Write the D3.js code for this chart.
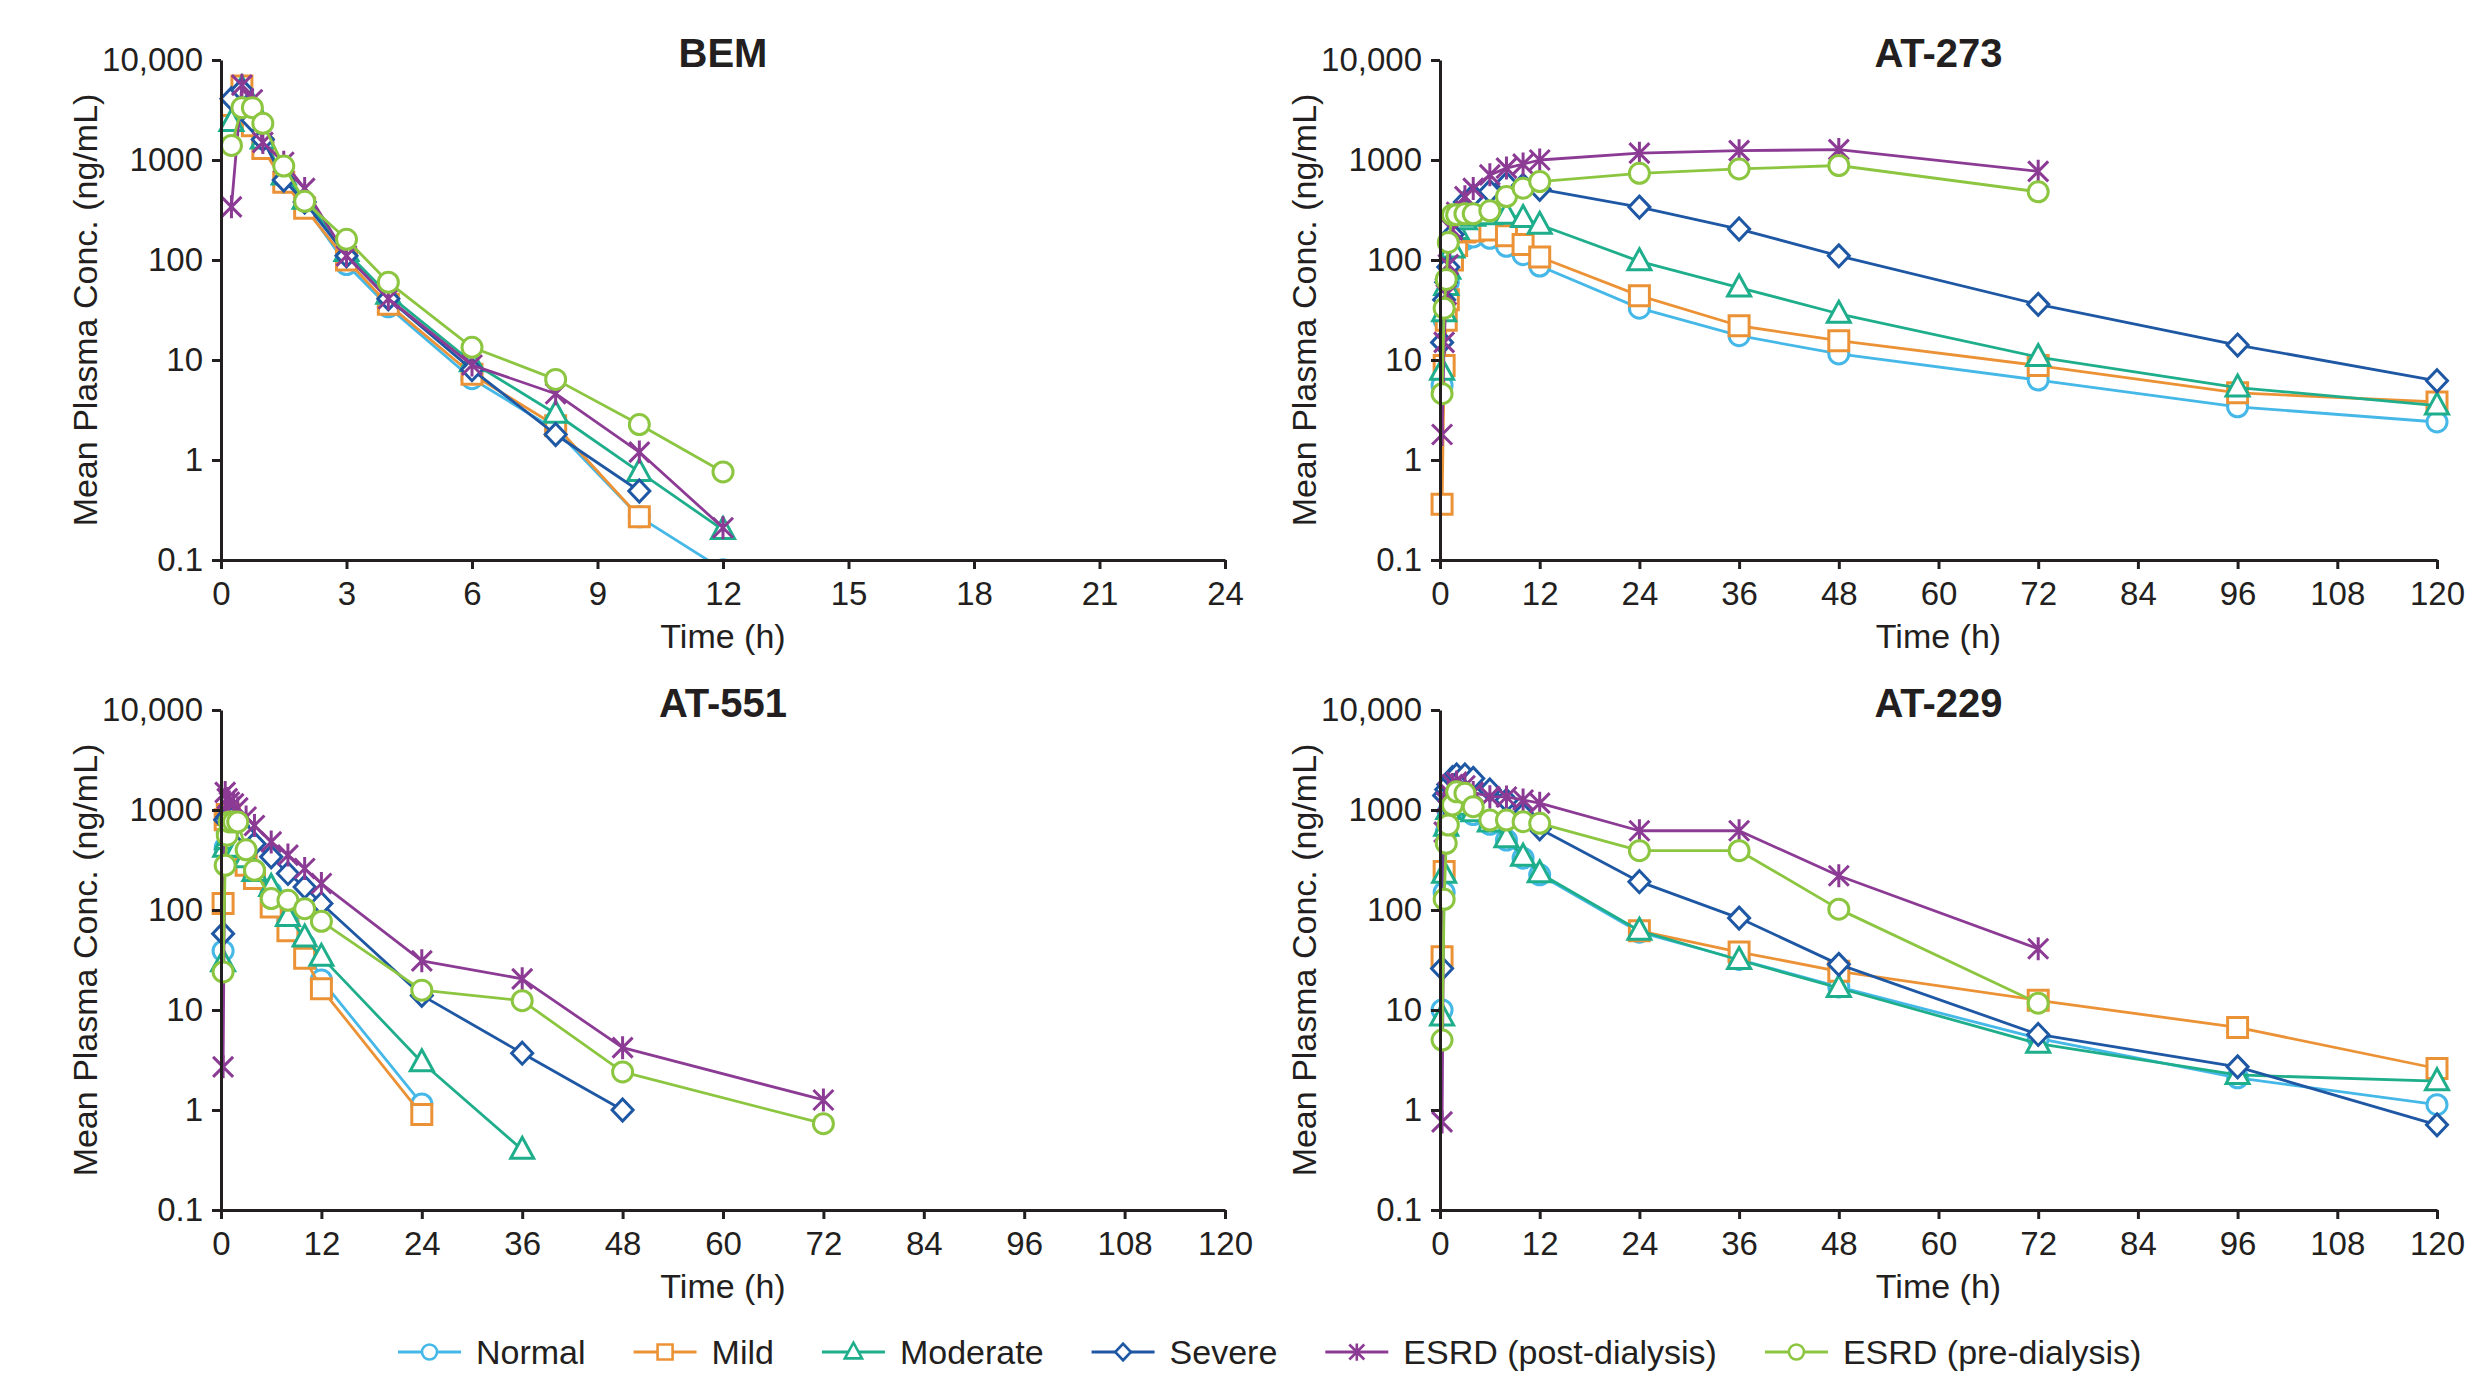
<!DOCTYPE html>
<html>
<head>
<meta charset="utf-8">
<script src="https://cdn.jsdelivr.net/npm/d3@7"></script>
<style>
  body { margin: 0; background: #fff; }
  text { font-family: "Liberation Sans", Arial, sans-serif; fill: #231f20; }
</style>
</head>
<body>
<svg id="chart" width="2468" height="1377"></svg>
<script>
// group names, in legend order
const groups = ["Normal", "Mild", "Moderate", "Severe", "ESRD (post-dialysis)", "ESRD (pre-dialysis)"];

// BEM (h, ng/mL)
const bemTimes    = [0.25, 0.5, 0.75, 1, 1.5, 2, 3, 4, 6, 8, 10, 12];
const bemNormal   = [2500, 4500, 3000, 1500, 600, 350, 90, 34, 6.5, 2.0, 0.27, 0.08];
const bemMild     = [3500, 5500, 2200, 1300, 600, 330, 100, 36, 7.2, 2.2, 0.27, null];
const bemModerate = [2400, 5200, 3500, 1600, 700, 400, 120, 45, 9.5, 2.9, 0.76, 0.2];
const bemSevere   = [4100, 5000, 2500, 1600, 630, 380, 110, 41, 8, 1.8, 0.49, null];
const bemPost     = [340, 5600, 4000, 1500, 950, 520, 110, 41, 8.9, 4.6, 1.2, 0.21];
const bemPre      = [1400, 3340, 3340, 2330, 870, 386, 161, 60, 13.4, 6.4, 2.26, 0.76];

// AT-273
const at273Times    = [0.25, 0.5, 0.75, 1, 1.5, 2, 3, 4, 6, 8, 10, 12, 24, 36, 48, 72, 96, 120];
const at273Normal   = [5.6, 25, 45, 60, 100, 130, 160, 170, 165, 137, 113, 87, 33, 17.5, 11.5, 6.3, 3.4, 2.4];
const at273Mild     = [0.36, 8.8, 25, 40, 100, 140, 190, 195, 200, 175, 143, 107, 44, 22, 15.6, 8.8, 4.7, 3.8];
const at273Moderate = [7.8, 30, 55, 80, 130, 200, 250, 270, 280, 284, 263, 225, 97, 53, 29, 10.7, 5.3, 3.5];
const at273Severe   = [15, 40, 60, 85, 180, 280, 380, 440, 484, 580, 560, 510, 338, 204, 110, 36, 14.1, 6.2];
const at273Post     = [1.8, 15, 45, 90, 200, 300, 430, 520, 710, 830, 910, 1000, 1170, 1240, 1270, 770, null, null];
const at273Pre      = [4.6, 33, 64, 150, 284, 284, 290, 290, 310, 431, 523, 608, 736, 814, 881, 481, null, null];

// AT-551
const at551Times    = [0.25, 0.5, 0.75, 1, 1.5, 2, 3, 4, 6, 8, 10, 12, 24, 36, 48, 72];
const at551Normal   = [39, 420, 600, 700, 650, 500, 350, 250, 150, 80, 45, 20, 1.15, null, null, null];
const at551Mild     = [116, 800, 900, 900, 700, 330, 280, 206, 107, 62, 33, 16.3, 0.9, null, null, null];
const at551Moderate = [30, 420, 500, 550, 500, 420, 330, 240, 170, 85, 53, 34, 3.0, 0.4, null, null];
const at551Severe   = [58, 800, 850, 900, 850, 700, 560, 460, 340, 232, 170, 116, 14, 3.7, 1.0, null];
const at551Post     = [2.7, 1500, 1300, 1200, 1150, 1050, 850, 700, 480, 354, 260, 184, 31, 20.5, 4.2, 1.26];
const at551Pre      = [24, 280, 560, 760, 760, 760, 400, 250, 130, 125, 103, 77, 15.8, 12.4, 2.4, 0.73];

// AT-229 (Mild is not visible between 0.5 h and 24 h in the source)
const at229Times    = [0.25, 0.5, 0.75, 1, 1.5, 2, 3, 4, 6, 8, 10, 12, 24, 36, 48, 72, 96, 120];
const at229Normal   = [10, 150, 600, 950, 1150, 1200, 1050, 900, 720, 500, 330, 225, 60, 32, 17, 5.2, 2.1, 1.13];
const at229Mild     = [34, 242, null, null, null, null, null, null, null, null, null, null, 62, 38, 24.4, 12.5, 6.7, 2.6];
const at229Moderate = [8.6, 230, 680, 1000, 1200, 1250, 1100, 950, 750, 521, 341, 233, 62, 31.6, 16.6, 4.6, 2.24, 1.94];
const at229Severe   = [26, 1400, 1600, 1800, 2100, 2240, 2240, 2070, 1585, 1250, 900, 650, 192, 83, 28.6, 5.7, 2.7, 0.71];
const at229Post     = [0.76, 600, 1200, 1500, 1800, 1900, 1750, 1500, 1360, 1350, 1260, 1170, 620, 620, 220, 41, null, null];
const at229Pre      = [5, 128, 464, 708, 1120, 1520, 1470, 1080, 794, 794, 764, 736, 392, 392, 102, 11.7, null, null];

const yTicks = [0.1, 1, 10, 100, 1000, 10000];

const colors = ["#45b8e7", "#ec9236", "#1fae8b", "#1e57a3", "#8c3b95", "#8cc641"];
const shapes = ["circle", "square", "triangle", "diamond", "star", "circle"];

const panels = [
  { title: "BEM",    times: bemTimes,   values: [bemNormal, bemMild, bemModerate, bemSevere, bemPost, bemPre],
    xMax: 24,  xStep: 3,  left: 221,  right: 1225, top: 60,  bottom: 560 },
  { title: "AT-273", times: at273Times, values: [at273Normal, at273Mild, at273Moderate, at273Severe, at273Post, at273Pre],
    xMax: 120, xStep: 12, left: 1440, right: 2437, top: 60,  bottom: 560 },
  { title: "AT-551", times: at551Times, values: [at551Normal, at551Mild, at551Moderate, at551Severe, at551Post, at551Pre],
    xMax: 120, xStep: 12, left: 221,  right: 1225, top: 710, bottom: 1210 },
  { title: "AT-229", times: at229Times, values: [at229Normal, at229Mild, at229Moderate, at229Severe, at229Post, at229Pre],
    xMax: 120, xStep: 12, left: 1440, right: 2437, top: 710, bottom: 1210 }
];

const ink = "#231f20";
const svg = d3.select("#chart");

// marker outline for each shape, centred on 0,0, scaled by k
function markerPath(shape, k) {
  const p = d3.path();
  if (shape === "circle") {
    p.moveTo(10 * k, 0);
    p.arc(0, 0, 10 * k, 0, 2 * Math.PI);
  } else if (shape === "square") {
    p.rect(-10 * k, -10 * k, 20 * k, 20 * k);
  } else if (shape === "triangle") {
    p.moveTo(0, -12.5 * k); p.lineTo(11.5 * k, 8.5 * k); p.lineTo(-11.5 * k, 8.5 * k); p.closePath();
  } else if (shape === "diamond") {
    p.moveTo(0, -11 * k); p.lineTo(10.5 * k, 0); p.lineTo(0, 11 * k); p.lineTo(-10.5 * k, 0); p.closePath();
  } else {
    p.moveTo(0, -11.5 * k); p.lineTo(0, 11.5 * k);
    p.moveTo(-10 * k, -10 * k); p.lineTo(10 * k, 10 * k);
    p.moveTo(-10 * k, 10 * k); p.lineTo(10 * k, -10 * k);
  }
  return p.toString();
}

function fmtY(d) {
  if (d === 10000) return "10,000";
  return d < 1 ? "0.1" : String(d);
}

panels.forEach((pn, pi) => {
  const x = d3.scaleLinear().domain([0, pn.xMax]).range([pn.left, pn.right]);
  const y = d3.scaleLog().domain([0.1, 10000]).range([pn.bottom, pn.top]);
  const g = svg.append("g");

  // clip everything below the x axis
  const clipId = "clip" + pi;
  svg.append("clipPath").attr("id", clipId)
    .append("rect")
    .attr("x", pn.left - 40).attr("y", pn.top - 40)
    .attr("width", pn.right - pn.left + 80).attr("height", pn.bottom - pn.top + 40);

  const plot = g.append("g").attr("clip-path", "url(#" + clipId + ")");

  const line = d3.line()
    .defined(d => d.v != null)
    .x(d => x(d.t))
    .y(d => y(d.v));

  pn.values.forEach((vals, si) => {
    const pts = pn.times.map((t, i) => ({ t: t, v: vals[i] }));
    const sg = plot.append("g");
    sg.append("path")
      .datum(pts)
      .attr("d", line)
      .attr("fill", "none")
      .attr("stroke", colors[si])
      .attr("stroke-width", 2.8)
      .attr("stroke-linejoin", "round");
    sg.selectAll(".mk")
      .data(pts.filter(d => d.v != null))
      .enter().append("path")
      .attr("class", "mk")
      .attr("transform", d => "translate(" + x(d.t) + "," + y(d.v) + ")")
      .attr("d", markerPath(shapes[si], 1))
      .attr("fill", shapes[si] === "star" ? "none" : "#fff")
      .attr("stroke", colors[si])
      .attr("stroke-width", 3);
  });

  // axes
  const yAxis = d3.axisLeft(y).tickValues(yTicks).tickFormat(fmtY)
    .tickSize(9).tickSizeOuter(0).tickPadding(9);
  const xAxis = d3.axisBottom(x).tickValues(d3.range(0, pn.xMax + 1, pn.xStep))
    .tickSize(9).tickSizeOuter(0).tickPadding(13);

  const ya = g.append("g").attr("transform", "translate(" + pn.left + ",0)").call(yAxis);
  const xa = g.append("g").attr("transform", "translate(0," + pn.bottom + ")").call(xAxis);
  [ya, xa].forEach(a => {
    a.selectAll("path, line").attr("stroke", ink).attr("stroke-width", 3);
    a.selectAll("text").attr("font-size", 33).attr("fill", ink)
      .style("font-family", '"Liberation Sans", Arial, sans-serif');
  });

  const cx = (pn.left + pn.right) / 2;
  g.append("text")
    .attr("x", cx).attr("y", pn.top + 7)
    .attr("text-anchor", "middle")
    .attr("font-size", 40).attr("font-weight", "bold")
    .text(pn.title);

  g.append("text")
    .attr("x", cx).attr("y", pn.bottom + 88)
    .attr("text-anchor", "middle")
    .attr("font-size", 34)
    .text("Time (h)");

  g.append("text")
    .attr("transform", "translate(" + (pn.left - 124) + "," + ((pn.top + pn.bottom) / 2) + ") rotate(-90)")
    .attr("text-anchor", "middle")
    .attr("font-size", 34)
    .text("Mean Plasma Conc. (ng/mL)");
});

// legend along the bottom
const legend = svg.append("g");
let lx = 398;
const ly = 1352;
groups.forEach((name, i) => {
  const item = legend.append("g");
  item.append("line")
    .attr("x1", lx).attr("x2", lx + 63)
    .attr("y1", ly).attr("y2", ly)
    .attr("stroke", colors[i]).attr("stroke-width", 3);
  item.append("path")
    .attr("transform", "translate(" + (lx + 31.5) + "," + ly + ")")
    .attr("d", markerPath(shapes[i], 0.75))
    .attr("fill", shapes[i] === "star" ? "none" : "#fff")
    .attr("stroke", colors[i]).attr("stroke-width", 2.6);
  const t = item.append("text")
    .attr("x", lx + 78).attr("y", ly + 12)
    .attr("font-size", 34)
    .text(name);
  lx += 78 + t.node().getComputedTextLength() + 48;
});
</script>
</body>
</html>
